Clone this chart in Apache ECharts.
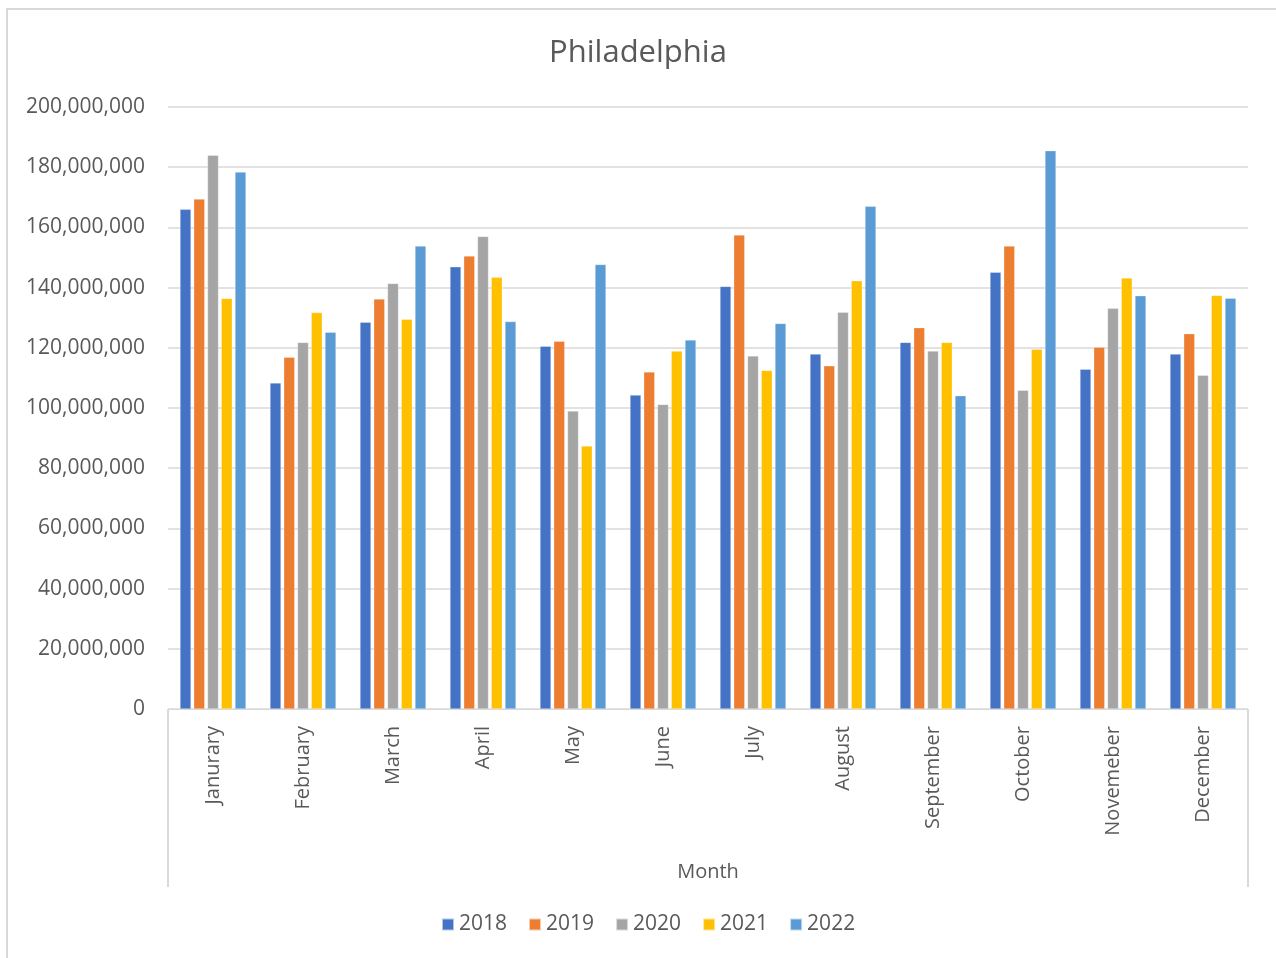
<!DOCTYPE html>
<html>
<head>
<meta charset="utf-8">
<script src="https://cdn.jsdelivr.net/npm/echarts@6/dist/echarts.min.js"></script>
<style>
  html, body { margin: 0; padding: 0; background: #fff; }
  #wrap { position: relative; width: 1276px; height: 958px; overflow: hidden; }
  #chart { position: absolute; left: 0; top: 0; width: 1276px; height: 958px; }
  #frame { position: absolute; left: 6px; top: 8px; width: 1300px; height: 1000px;
           border-left: 2px solid #d9d9d9; border-top: 2px solid #d9d9d9; pointer-events: none; }
</style>
</head>
<body>
<div id="wrap"><div id="chart"></div><div id="frame"></div></div>
<script>
const months = ['Janurary','February','March','April','May','June','July','August','September','October','Novemeber','December'];
const yAxisTicks = { min: 0, max: 200000000, interval: 20000000 };
const s2018 = [166.0e6, 108.3e6, 128.5e6, 146.9e6, 120.5e6, 104.3e6, 140.4e6, 117.9e6, 121.8e6, 145.1e6, 112.9e6, 117.9e6];
const s2019 = [169.4e6, 116.9e6, 136.2e6, 150.5e6, 122.2e6, 112.0e6, 157.5e6, 114.0e6, 126.7e6, 153.8e6, 120.2e6, 124.7e6];
const s2020 = [184.0e6, 121.8e6, 141.4e6, 157.0e6, 99.0e6, 101.2e6, 117.3e6, 131.8e6, 118.9e6, 105.9e6, 133.1e6, 110.9e6];
const s2021 = [136.4e6, 131.7e6, 129.5e6, 143.4e6, 87.4e6, 118.9e6, 112.5e6, 142.3e6, 121.8e6, 119.5e6, 143.2e6, 137.4e6];
const s2022 = [178.4e6, 125.2e6, 153.8e6, 128.7e6, 147.7e6, 122.6e6, 128.1e6, 167.0e6, 104.1e6, 185.5e6, 137.3e6, 136.5e6];
const seriesNames = ['2018','2019','2020','2021','2022'];
const seriesData = [s2018, s2019, s2020, s2021, s2022];
const colors = ['#4472C4','#ED7D31','#A5A5A5','#FFC000','#5B9BD5'];
const axisTitle = 'Month';
const chartTitle = 'Philadelphia';

const FONT = 'Open Sans';
const TXT = '#595959';
const chart = echarts.init(document.getElementById('chart'), null, { renderer: 'canvas' });
chart.setOption({
  animation: false,
  backgroundColor: '#fff',
  color: colors,
  title: {
    text: chartTitle, left: 'center', top: 33,
    textStyle: { fontFamily: FONT, fontSize: 31, fontWeight: 'normal', color: TXT }
  },
  legend: {
    bottom: 18, left: 436,
    itemWidth: 12, itemHeight: 12, itemGap: 21,
    icon: 'rect',
    textStyle: { fontFamily: FONT, fontSize: 21, color: TXT }
  },
  grid: { left: 168, right: 28, top: 107, bottom: 249, containLabel: false },
  xAxis: [
    {
      type: 'category', data: months, position: 'bottom',
      axisLine: { show: true, lineStyle: { color: '#d9d9d9', width: 1 } },
      axisTick: { show: false },
      axisLabel: { rotate: 90, margin: 17, fontFamily: FONT, fontSize: 20, color: TXT }
    },
    {
      type: 'category', data: [axisTitle], position: 'bottom',
      axisLine: { show: false },
      axisTick: { show: true, length: 178, lineStyle: { color: '#d9d9d9', width: 2 } },
      axisLabel: { margin: 153, fontFamily: FONT, fontSize: 20, color: TXT },
      splitLine: { show: false }
    }
  ],
  yAxis: {
    type: 'value', min: yAxisTicks.min, max: yAxisTicks.max, interval: yAxisTicks.interval,
    axisLine: { show: false }, axisTick: { show: false },
    splitLine: { lineStyle: { color: '#d9d9d9', width: 1.5 } },
    axisLabel: {
      margin: 23, fontFamily: FONT, fontSize: 21, color: TXT,
      formatter: v => String(Math.round(v)).replace(/\B(?=(\d{3})+(?!\d))/g, ',')
    }
  },
  series: seriesNames.map((n, i) => ({
    name: n, type: 'bar', xAxisIndex: 0, data: seriesData[i],
    barWidth: 11, barGap: '25%',
    itemStyle: { color: colors[i], borderColor: 'rgba(255,255,255,0.6)', borderWidth: 0.5 }
  }))
});
</script>
</body>
</html>
